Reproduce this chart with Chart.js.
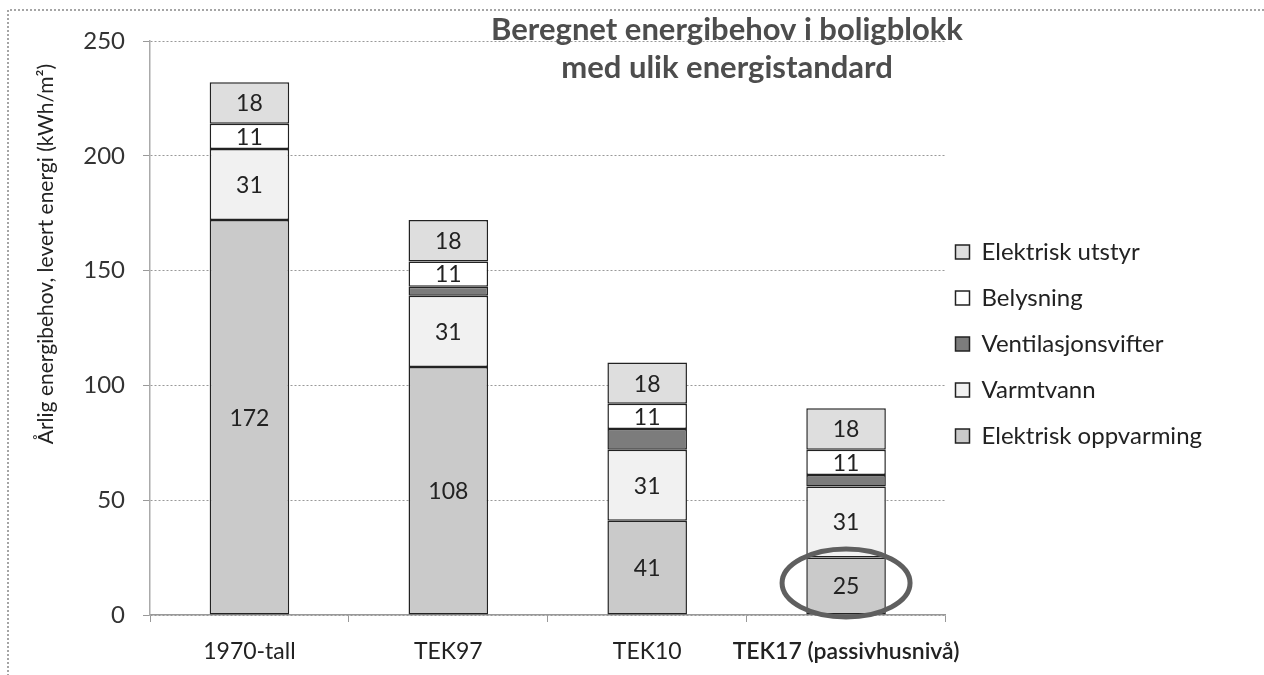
<!DOCTYPE html>
<html>
<head>
<meta charset="utf-8">
<script src="https://cdn.jsdelivr.net/npm/chart.js@4.4.1/dist/chart.umd.min.js"></script>
<style>
  html, body { margin: 0; padding: 0; background: #fff; }
  #wrap { width: 1264px; height: 675px; position: relative; }
</style>
</head>
<body>
<div id="wrap"><canvas id="chart"></canvas></div>
<script>
// Data
const categories = ['1970-tall', 'TEK97', 'TEK10', 'TEK17 (passivhusnivå)'];
const oppvarming = [172, 108, 41, 25];
const varmtvann = [31, 31, 31, 31];
const ventilasjon = [0, 4, 9, 5];
const belysning = [11, 11, 11, 11];
const utstyr = [18, 18, 18, 18];
const yTicks = [0, 50, 100, 150, 200, 250];

const titleLines = ['Beregnet energibehov i boligblokk', 'med ulik energistandard'];
const yTitle = 'Årlig energibehov, levert energi (kWh/m²)';

const FONT = 'Lato, "Open Sans", sans-serif';

const seriesDefs = [
    { label: 'Elektrisk oppvarming', data: oppvarming, color: '#cacaca' },
    { label: 'Varmtvann', data: varmtvann, color: '#f1f1f1' },
    { label: 'Ventilasjonsvifter', data: ventilasjon, color: '#7c7c7c' },
    { label: 'Belysning', data: belysning, color: '#ffffff' },
    { label: 'Elektrisk utstyr', data: utstyr, color: '#dedede' }
];

// value labels inside segments, title, axis title, frame, ellipse
const decorPlugin = {
    id: 'decor',
    afterLayout(chart) {
        // nudge the legend block up/left to where the original sits
        const lg = chart.legend;
        if (!lg) return;
        lg.left -= 12; lg.right -= 12;
        lg.top -= 14; lg.bottom -= 14;
    },
    afterDatasetsDraw(chart) {
        const ctx = chart.ctx;
        ctx.save();
        ctx.font = '23px ' + FONT;
        ctx.fillStyle = '#222';
        ctx.textAlign = 'center';
        ctx.textBaseline = 'middle';
        chart.data.datasets.forEach((ds, i) => {
            if (ds.label === 'Ventilasjonsvifter') return;
            chart.getDatasetMeta(i).data.forEach((bar, j) => {
                const v = ds.data[j];
                if (!v) return;
                const y = (bar.y + bar.base) / 2;
                ctx.fillText(String(v), bar.x, y + 1);
            });
        });

        // ellipse around the TEK17 heating value
        const bar = chart.getDatasetMeta(0).data[3];
        ctx.beginPath();
        ctx.strokeStyle = '#5f5f5f';
        ctx.lineWidth = 5;
        ctx.ellipse(bar.x, (bar.y + bar.base) / 2 - 3, 64, 34, 0, 0, Math.PI * 2);
        ctx.stroke();
        ctx.restore();
    },
    afterDraw(chart) {
        const ctx = chart.ctx;
        ctx.save();
        // chart title inside plot
        ctx.font = 'bold 31px ' + FONT;
        ctx.fillStyle = '#4d4d4d';
        ctx.textAlign = 'center';
        ctx.textBaseline = 'middle';
        ctx.fillText(titleLines[0], 727, 30);
        ctx.fillText(titleLines[1], 727, 68);

        // y axis title
        ctx.translate(46, 254);
        ctx.rotate(-Math.PI / 2);
        ctx.font = '21px ' + FONT;
        ctx.fillStyle = '#222';
        ctx.fillText(yTitle, 0, 0);
        ctx.restore();

        // dotted frame
        ctx.save();
        ctx.strokeStyle = '#888';
        ctx.lineWidth = 1.5;
        ctx.setLineDash([2, 2]);
        ctx.beginPath();
        ctx.moveTo(8, 680);
        ctx.lineTo(8, 10);
        ctx.lineTo(1270, 10);
        ctx.stroke();
        ctx.restore();
    }
};

new Chart(document.getElementById('chart'), {
    type: 'bar',
    data: {
        labels: categories,
        datasets: seriesDefs.map(s => ({
            label: s.label,
            data: s.data,
            backgroundColor: s.color,
            borderColor: '#222',
            borderWidth: 1.5,
            borderSkipped: false,
            categoryPercentage: 1,
            barPercentage: 0.4
        }))
    },
    options: {
        responsive: true,
        maintainAspectRatio: false,
        animation: false,
        layout: {
            padding: { top: 41, right: 40, bottom: 0, left: 0 }
        },
        plugins: {
            title: { display: false },
            tooltip: { enabled: false },
            legend: {
                position: 'right',
                reverse: true,
                labels: {
                    color: '#222',
                    font: { family: FONT, size: 24 },
                    boxWidth: 14,
                    boxHeight: 14,
                    padding: 22
                }
            }
        },
        scales: {
            x: {
                stacked: true,
                border: { display: true, color: '#999', width: 1.5 },
                grid: {
                    display: true,
                    drawOnChartArea: false,
                    drawTicks: true,
                    offset: true,
                    tickLength: 7,
                    color: '#999'
                },
                ticks: {
                    color: '#222',
                    padding: 16,
                    autoSkip: false,
                    maxRotation: 0,
                    minRotation: 0,
                    font: ctx => ({
                        family: FONT,
                        size: 23,
                        weight: ctx.index === 3 ? '600' : 'normal'
                    })
                },
                afterFit(scale) { scale.height = 60; }
            },
            y: {
                stacked: true,
                min: 0,
                max: 250,
                afterBuildTicks(scale) {
                    scale.ticks = yTicks.map(v => ({ value: v }));
                },
                border: { display: true, color: '#aaa', width: 1.5, dash: [2, 2] },
                grid: {
                    color: '#999',
                    lineWidth: 1,
                    tickLength: 7,
                    tickColor: '#999'
                },
                ticks: {
                    color: '#333',
                    padding: 18,
                    font: { family: FONT, size: 24 }
                },
                afterFit(scale) { scale.width = 150; }
            }
        }
    },
    plugins: [decorPlugin]
});
</script>
</body>
</html>
